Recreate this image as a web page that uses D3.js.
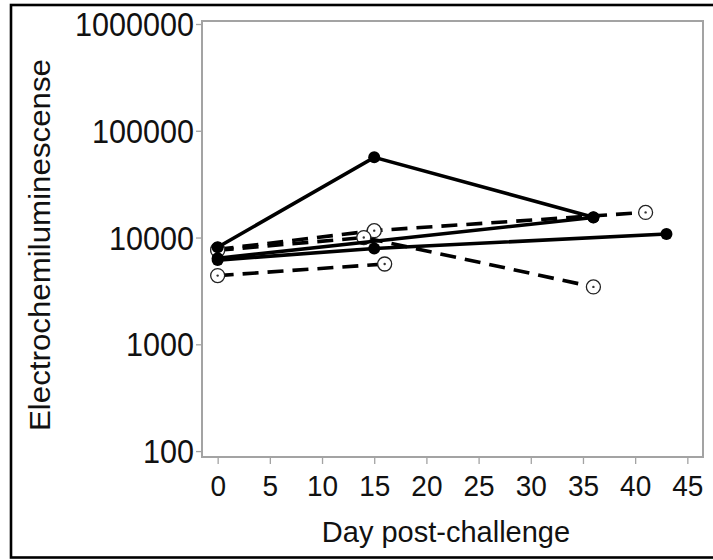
<!DOCTYPE html>
<html>
<head>
<meta charset="utf-8">
<script src="https://cdn.jsdelivr.net/npm/d3@7"></script>
<style>
  html, body { margin: 0; padding: 0; background: #fff; }
  svg { display: block; }
  text { font-family: "Liberation Sans", Arial, sans-serif; fill: #111; }
</style>
</head>
<body>
<svg id="chart" width="713" height="560"></svg>
<script>
// ---- data ----
const yTickValues = [100, 1000, 10000, 100000, 1000000];
const xTickValues = [0, 5, 10, 15, 20, 25, 30, 35, 40, 45];
const xTitle = "Day post-challenge";
const yTitle = "Electrochemiluminescense";

// solid lines, filled circles
const solidA_days = [0, 15, 36];
const solidA_vals = [8100, 56400, 15500];
const solidB_days = [0, 15, 43];
const solidB_vals = [6150, 7900, 10800];
const solidC_days = [0, 36];
const solidC_vals = [6400, 15400];

// dashed lines, open circles
const dashD_days = [0, 15, 41];
const dashD_vals = [7750, 11600, 17200];
const dashE_days = [0, 16];
const dashE_vals = [4400, 5650];
const dashF_days = [0, 14, 36];
const dashF_vals = [7600, 10000, 3450];

const solidSeries = [
  {days: solidA_days, vals: solidA_vals},
  {days: solidB_days, vals: solidB_vals},
  {days: solidC_days, vals: solidC_vals}
];
const dashedSeries = [
  {days: dashD_days, vals: dashD_vals},
  {days: dashE_days, vals: dashE_vals},
  {days: dashF_days, vals: dashF_vals}
];

// ---- layout ----
const svg = d3.select("#chart");
const plot = {left: 202, right: 703, top: 21, bottom: 457};

const x = d3.scaleLinear().domain([-1.5, 46.5]).range([plot.left, plot.right]);
const y = d3.scaleLog().domain([88, 1067000]).range([plot.bottom, plot.top]);

// outer frame
svg.append("rect")
  .attr("x", 11).attr("y", 5).attr("width", 720).attr("height", 552.5)
  .attr("fill", "none").attr("stroke", "#000").attr("stroke-width", 2.6);

// plot box
svg.append("rect")
  .attr("x", plot.left).attr("y", plot.top)
  .attr("width", plot.right - plot.left).attr("height", plot.bottom - plot.top)
  .attr("fill", "#fff").attr("stroke", "#a3a3a3").attr("stroke-width", 2);

// y axis
const yAxis = d3.axisLeft(y).tickValues(yTickValues).tickSize(5).tickPadding(5)
  .tickFormat(d3.format("d"));
const gy = svg.append("g").attr("transform", `translate(${plot.left - 1},0)`).call(yAxis);
gy.select(".domain").remove();
gy.selectAll(".tick line").attr("stroke", "#a3a3a3").attr("stroke-width", 1.3);
gy.selectAll(".tick text").remove();
gy.selectAll(".tick").append("text")
  .attr("text-anchor", "end")
  .attr("transform", "translate(-7,0) scale(1.02,1.08)")
  .attr("dy", "0.36em")
  .style("font-size", "30px")
  .style("fill", "#111")
  .text(d => d3.format("d")(d));

// x axis
const xAxis = d3.axisBottom(x).tickValues(xTickValues).tickSize(6).tickPadding(6);
const gx = svg.append("g").attr("transform", `translate(0,${plot.bottom + 1})`).call(xAxis);
gx.select(".domain").remove();
gx.selectAll(".tick line").attr("stroke", "#a3a3a3").attr("stroke-width", 1.3);
gx.selectAll(".tick text").remove();
gx.selectAll(".tick").append("text")
  .attr("text-anchor", "middle")
  .attr("transform", "translate(0,38) scale(1,1.08)")
  .style("font-size", "28px")
  .style("fill", "#111")
  .text(d => d);

// titles
svg.append("text")
  .attr("x", 446).attr("y", 542)
  .attr("text-anchor", "middle")
  .style("font-size", "29px")
  .text(xTitle);

svg.append("text")
  .attr("transform", "translate(50,245) rotate(-90)")
  .attr("text-anchor", "middle")
  .attr("textLength", 372)
  .attr("lengthAdjust", "spacingAndGlyphs")
  .style("font-size", "30px")
  .text(yTitle);

// lines
const line = d3.line().x(d => x(d[0])).y(d => y(d[1]));
const toPts = s => s.days.map((d, i) => [d, s.vals[i]]);

const gData = svg.append("g");

dashedSeries.forEach(s => {
  gData.append("path")
    .attr("d", line(toPts(s)))
    .attr("fill", "none").attr("stroke", "#000")
    .attr("stroke-width", 3.6)
    .attr("stroke-dasharray", "16,9");
});
dashedSeries.forEach(s => {
  const pts = toPts(s);
  gData.selectAll(null).data(pts).enter().append("circle")
    .attr("cx", d => x(d[0])).attr("cy", d => y(d[1])).attr("r", 7)
    .attr("fill", "#fff").attr("stroke", "#222").attr("stroke-width", 1.3);
  gData.selectAll(null).data(pts).enter().append("circle")
    .attr("cx", d => x(d[0])).attr("cy", d => y(d[1])).attr("r", 1.2)
    .attr("fill", "#333");
});

solidSeries.forEach(s => {
  gData.append("path")
    .attr("d", line(toPts(s)))
    .attr("fill", "none").attr("stroke", "#000")
    .attr("stroke-width", 3.6);
});
solidSeries.forEach(s => {
  gData.selectAll(null).data(toPts(s)).enter().append("circle")
    .attr("cx", d => x(d[0])).attr("cy", d => y(d[1])).attr("r", 6)
    .attr("fill", "#000");
});
</script>
</body>
</html>
